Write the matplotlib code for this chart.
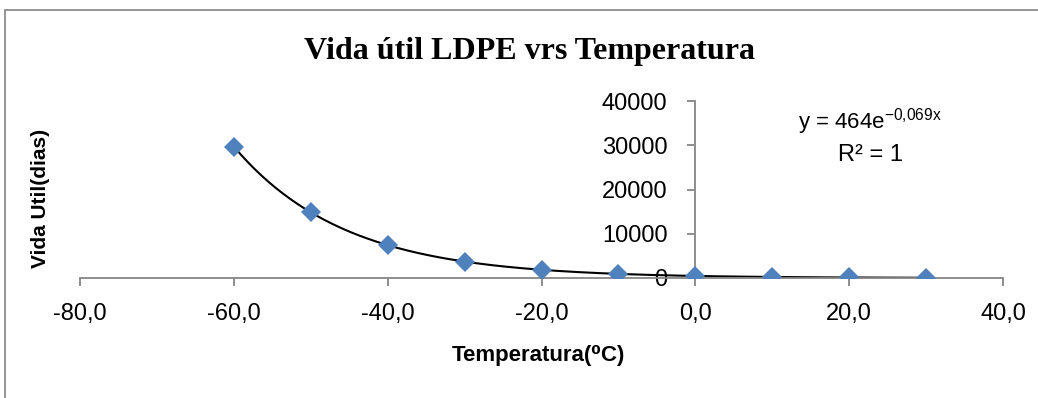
import matplotlib.pyplot as plt
import numpy as np
from matplotlib.patches import Rectangle

# data
temperatura = [-60, -50, -40, -30, -20, -10, 0, 10, 20, 30]
vida_util = [29700, 14850, 7420, 3710, 1860, 930, 464, 232, 116, 58]
x_ticks = [-80, -60, -40, -20, 0, 20, 40]
y_ticks = [0, 10000, 20000, 30000, 40000]

axis_grey = '#868686'
sans = ['Liberation Sans', 'DejaVu Sans']
plt.rcParams['mathtext.fontset'] = 'custom'
plt.rcParams['mathtext.rm'] = 'Liberation Sans'

fig = plt.figure(figsize=(10.38, 3.98), dpi=100)
ax = fig.add_axes([80 / 1038, 1 - 278 / 398, 923 / 1038, 177 / 398])

# exponential trendline fitted from the points
b, a = np.polyfit(temperatura, np.log(vida_util), 1)
xs = np.linspace(min(temperatura), max(temperatura), 200)
ax.plot(xs, np.exp(a) * np.exp(b * xs), color='black', lw=1.5, zorder=2)
ax.plot(temperatura, vida_util, 'D', color='#4F81BD', markersize=10,
        markeredgewidth=0, zorder=3)

ax.set_xlim(-80, 40)
ax.set_ylim(0, 40000)
ax.set_xticks(x_ticks)
ax.set_xticklabels([('%.1f' % v).replace('.', ',') for v in x_ticks])
ax.set_yticks(y_ticks)
ax.set_yticklabels([str(v) for v in y_ticks])

ax.spines['top'].set_visible(False)
ax.spines['right'].set_visible(False)
ax.spines['left'].set_position(('data', 0))
ax.spines['left'].set_color(axis_grey)
ax.spines['bottom'].set_color(axis_grey)
ax.spines['left'].set_linewidth(1.3)
ax.spines['bottom'].set_linewidth(1.3)
ax.tick_params(axis='both', colors=axis_grey, length=6, width=1.3,
               labelcolor='black', labelsize=17)
ax.tick_params(axis='x', pad=12)
ax.tick_params(axis='y', pad=14)
for lbl in ax.get_xticklabels() + ax.get_yticklabels():
    lbl.set_family(sans)
ax.patch.set_alpha(0)

fig.text(530 / 1038, 1 - 52 / 398, 'Vida útil LDPE vrs Temperatura',
         family=['Liberation Serif', 'DejaVu Serif'], weight='bold',
         fontsize=23, ha='center', va='center')
fig.text(40 / 1038, 1 - 198 / 398, 'Vida Util(dias)', family=sans,
         weight='bold', fontsize=15, rotation=90, ha='center', va='center')
fig.text(538 / 1038, 1 - 355 / 398, 'Temperatura(⁰C)', family=sans,
         weight='bold', fontsize=16, ha='center', va='center')

# trendline equation
fig.text(870 / 1038, 1 - 122 / 398, 'y = 464e$^{\\mathrm{-0{,}069x}}$',
         family=sans, fontsize=16, ha='center', va='center')
fig.text(870 / 1038, 1 - 155 / 398, 'R² = 1', family=sans,
         fontsize=17, ha='center', va='center')

# chart area border (cropped on right and bottom)
fig.patches.append(Rectangle((5 / 1038, -0.05), 1.1, 1 - 10 / 398 + 0.05,
                             transform=fig.transFigure, fill=False,
                             edgecolor='#8c8c8c', lw=1.3))

fig.savefig('out.png', dpi=100)
